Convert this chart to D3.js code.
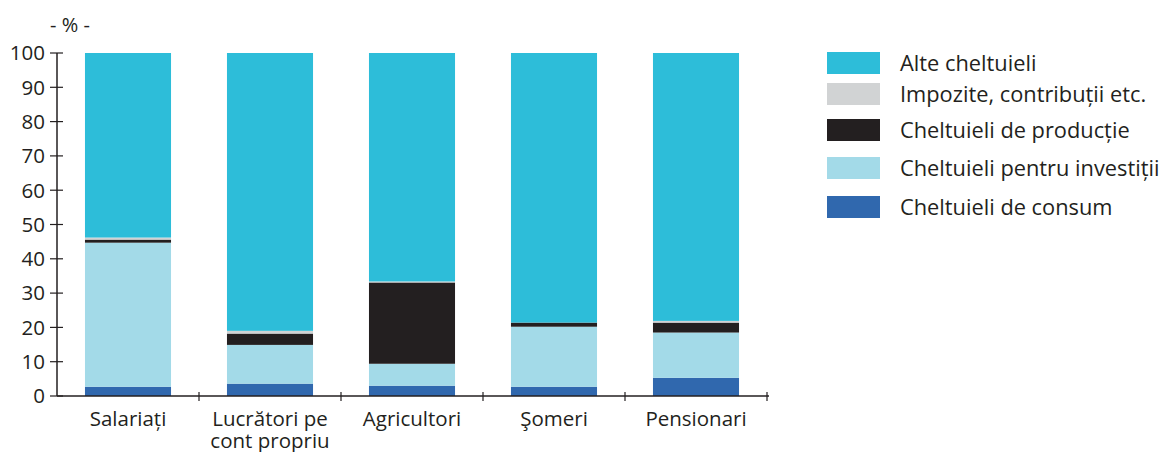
<!DOCTYPE html>
<html><head><meta charset="utf-8">
<script src="https://cdn.jsdelivr.net/npm/d3@7"></script>
<style>
body{margin:0;background:#fff;}
text{font-family:"Open Sans",sans-serif;fill:#231f20;}
</style></head>
<body><svg id="c" width="1159" height="452"></svg>
<script>
const categories = ["Salariați", "Lucrători pe|cont propriu", "Agricultori", "Şomeri", "Pensionari"];
const consum     = [2.7, 3.6, 3.0, 2.7, 5.3];
const investitii = [42.0, 11.3, 6.4, 17.5, 13.2];
const productie  = [0.9, 3.3, 23.7, 1.2, 2.9];
const impozite   = [0.6, 0.8, 0.3, 0.0, 0.5];
const alte       = [53.8, 81.0, 66.6, 78.6, 78.1];
const seriesNames = ["Cheltuieli de consum", "Cheltuieli pentru investiții", "Cheltuieli de producție", "Impozite, contribuții etc.", "Alte cheltuieli"];
const seriesColors = ["#3068ae", "#a3dae8", "#231f20", "#d1d3d4", "#2dbdd9"];
const yTicks = [0,10,20,30,40,50,60,70,80,90,100];

const seriesVals = [consum, investitii, productie, impozite, alte];
const keys = ["consum","investitii","productie","impozite","alte"];
const rows = categories.map((c,i)=>{const r={cat:c}; keys.forEach((k,j)=>r[k]=seriesVals[j][i]); return r;});
const stacked = d3.stack().keys(keys)(rows);

const svg = d3.select("#c");
const x = d3.scaleBand().domain(categories).range([57, 767]).paddingInner(0.394).paddingOuter(0.197);
const y = d3.scaleLinear().domain([0,100]).range([396, 53]);

// bars
svg.append("g").selectAll("g").data(stacked).join("g")
  .attr("fill",(d,i)=>seriesColors[i])
  .selectAll("rect").data(d=>d).join("rect")
  .attr("x",d=>x(d.data.cat)).attr("width",x.bandwidth())
  .attr("y",d=>y(d[1])).attr("height",d=>y(d[0])-y(d[1]));

// y axis
const ya = svg.append("g").attr("transform","translate(57,0)");
ya.append("line").attr("y1",y(0)).attr("y2",y(100)).attr("stroke","#231f20").attr("stroke-width",1.5);
ya.selectAll("line.t").data(yTicks).join("line").attr("class","t")
  .attr("x1",-7).attr("x2",6).attr("y1",d=>y(d)).attr("y2",d=>y(d)).attr("stroke","#231f20").attr("stroke-width",1.2);
ya.selectAll("text").data(yTicks).join("text")
  .attr("x",-12).attr("y",d=>y(d)).attr("dy","0.36em").attr("text-anchor","end")
  .style("font-size","20.5px").text(d=>d);
svg.append("text").attr("x",70).attr("y",32).attr("text-anchor","middle").style("font-size","20px").text("- % -");

// x axis
const xa = svg.append("g");
xa.append("line").attr("x1",57).attr("x2",769).attr("y1",y(0)).attr("y2",y(0)).attr("stroke","#231f20").attr("stroke-width",1.5);
const bounds = categories.map(c=>x(c)-x.step()*x.paddingInner()/2).concat([767]).slice(1);
xa.selectAll("line.t").data(bounds).join("line").attr("class","t")
  .attr("x1",d=>d).attr("x2",d=>d).attr("y1",y(0)-4).attr("y2",y(0)+5).attr("stroke","#231f20").attr("stroke-width",1.2);
categories.forEach(c=>{
  const t = xa.append("text").attr("x",x(c)+x.bandwidth()/2).attr("y",426).attr("text-anchor","middle").style("font-size","20.5px");
  c.split("|").forEach((ln,i)=>t.append("tspan").attr("x",x(c)+x.bandwidth()/2).attr("dy",i?22:0).text(ln));
});

// legend
const legendOrder = [4,3,2,1,0];
const legY = [52,83,119,157,196];
const lg = svg.append("g");
legendOrder.forEach((si,i)=>{
  lg.append("rect").attr("x",827).attr("y",legY[i]).attr("width",53).attr("height",22).attr("fill",seriesColors[si]);
  lg.append("text").attr("x",900).attr("y",legY[i]+11).attr("dy","0.38em").style("font-size","21.8px").text(seriesNames[si]);
});
</script></body></html>
